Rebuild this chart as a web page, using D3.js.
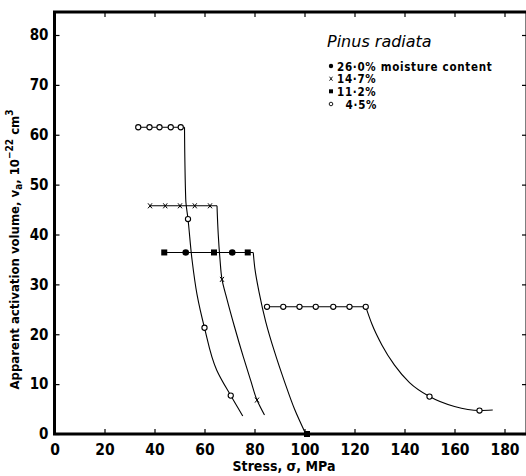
<!DOCTYPE html>
<html><head><meta charset="utf-8">
<script src="https://cdn.jsdelivr.net/npm/d3@7"></script>
<style>
body{margin:0;background:#fff;}
svg{display:block;}
text{font-family:"DejaVu Sans Condensed","Liberation Sans Narrow","DejaVu Sans",sans-serif;fill:#000;}
</style></head><body>
<svg id="c" width="526" height="476"></svg>
<script>
// ---- data ----
const xTicks = [0,20,40,60,80,100,120,140,160,180];
const yTicks = [0,10,20,30,40,50,60,70,80];
const legendLabels = ["26\u00b70% moisture content","14\u00b77%","11\u00b72%","  4\u00b75%"];

// 4.5% moisture: first plateau (open circles)
const m45aX = [33.5,38,42,46.5,50.5];
const m45aY = [61.5,61.5,61.5,61.5,61.5];
const m45aDropX = [53.4,60,70.5];
const m45aDropY = [43.1,21.3,7.7];
const m45aLineX = [33.5,52,52.5,53.4,55,57,60,64.9,70.5,75.3];
const m45aLineY = [61.5,61.5,47,43.1,35,28,21.3,12.8,7.7,3.6];
// 4.5% second plateau
const m45bX = [85,91.5,98,104.5,111.5,118,124.5];
const m45bY = [25.5,25.5,25.5,25.5,25.5,25.5,25.5];
const m45bDropX = [150,170];
const m45bDropY = [7.5,4.7];
const m45bLineX = [85,124.5,127,131,136,142,150,160,170,175.3];
const m45bLineY = [25.5,25.5,22,17.8,13.8,10.3,7.5,5.5,4.7,4.8];
// 14.7% (crosses)
const m147X = [38.2,44.3,50.2,56.1,62.2,67,81];
const m147Y = [45.75,45.75,45.75,45.75,45.75,31,6.8];
const m147LineX = [38.2,65,65.5,66.2,67,69,72,75.5,78.5,81,84];
const m147LineY = [45.75,45.75,40,35,31,27,21.5,15.5,10.7,6.8,3.8];
// 11.2% (filled squares) and 26.0% (filled circles)
const m112X = [43.9,63.8,77.3,101];
const m112Y = [36.4,36.4,36.4,0];
const m260X = [52.5,71.1];
const m260Y = [36.4,36.4];
const m112LineX = [43.9,79.5,80.2,81.8,84.5,88,92,96,100.5];
const m112LineY = [36.4,36.4,33,28.5,22.5,16.5,10.5,5,0];

// ---- drawing ----
const svg = d3.select("#c");
const x = d3.scaleLinear().domain([0,180]).range([54.5,504.5]);
const y = d3.scaleLinear().domain([0,80]).range([434,35]);
const xMax = 189, yMax = 84.6;

// frame
svg.append("path").attr("stroke","#000").attr("fill","none").attr("stroke-width",3)
  .attr("d",`M${x(0)},${y(0)}V${y(yMax)}H${x(xMax)}V${y(0)}Z`);

// axes
const fam = "'DejaVu Sans Condensed','Liberation Sans Narrow',sans-serif";
const gx = svg.append("g").attr("transform",`translate(0,${y(0)})`)
  .call(d3.axisBottom(x).tickValues(xTicks).tickSizeInner(-5).tickSizeOuter(0).tickPadding(10).tickFormat(d3.format("d")));
gx.select(".domain").remove();
gx.selectAll("text").style("font","bold 15.5px "+fam).attr("fill","#000");
const gy = svg.append("g").attr("transform",`translate(${x(0)},0)`)
  .call(d3.axisLeft(y).tickValues(yTicks).tickSizeInner(-5).tickSizeOuter(0).tickPadding(6).tickFormat(d3.format("d")));
gy.select(".domain").remove();
gy.selectAll("text").style("font","bold 15px "+fam).attr("fill","#000");
// top / right inward ticks
const gt = svg.append("g").attr("transform",`translate(0,${y(yMax)})`)
  .call(d3.axisTop(x).tickValues(xTicks).tickSizeInner(-5).tickSizeOuter(0).tickFormat(""));
gt.select(".domain").remove();
const gr = svg.append("g").attr("transform",`translate(${x(xMax)},0)`)
  .call(d3.axisRight(y).tickValues(yTicks).tickSizeInner(-5).tickSizeOuter(0).tickFormat(""));
gr.select(".domain").remove();
svg.selectAll(".tick line").attr("stroke","#000").attr("stroke-width",1.2);

// axis titles
svg.append("text").attr("x",284).attr("y",471).attr("text-anchor","middle")
  .style("font","bold 14px "+fam)
  .text("Stress, \u03c3, MPa");
const yl = svg.append("text").attr("transform",`translate(19,${y(37)}) rotate(-90)`).attr("text-anchor","middle")
  .style("font","bold 13px "+fam);
yl.append("tspan").text("Apparent activation volume, v");
yl.append("tspan").attr("dy",3).style("font-size","10px").text("a");
yl.append("tspan").attr("dy",-3).text(", 10");
yl.append("tspan").attr("dy",-6).style("font-size","10px").text("\u221222");
yl.append("tspan").attr("dy",6).text(" cm");
yl.append("tspan").attr("dy",-6).style("font-size","10px").text("3");

// lines
const straight = d3.line();
const smoothY = d3.line().curve(d3.curveMonotoneY);
const smoothX = d3.line().curve(d3.curveMonotoneX);
function drawLine(xs, ys, gen){
  svg.append("path").attr("fill","none").attr("stroke","#000").attr("stroke-width",1.1)
    .attr("d", gen(xs.map((v,i)=>[x(v), y(ys[i])])));
}
[[m45aLineX,m45aLineY,smoothY],[m45bLineX,m45bLineY,smoothX],[m147LineX,m147LineY,smoothY],[m112LineX,m112LineY,smoothY]].forEach(([xs,ys,g])=>{
  drawLine(xs.slice(0,2), ys.slice(0,2), straight);
  drawLine(xs.slice(1), ys.slice(1), g);
});

// markers
function circles(xs, ys){
  svg.append("g").selectAll("circle").data(xs).join("circle")
    .attr("cx",d=>x(d)).attr("cy",(d,i)=>y(ys[i])).attr("r",2.6)
    .attr("fill","#fff").attr("stroke","#000").attr("stroke-width",1.1);
}
circles(m45aX,m45aY); circles(m45aDropX,m45aDropY);
circles(m45bX,m45bY); circles(m45bDropX,m45bDropY);
svg.append("g").selectAll("path").data(m147X).join("path")
  .attr("d",(d,i)=>{const cx=x(d),cy=y(m147Y[i]);return `M${cx-2},${cy-2.5}L${cx+2},${cy+2.5}M${cx+2},${cy-2.5}L${cx-2},${cy+2.5}`;})
  .attr("stroke","#000").attr("stroke-width",1);
svg.append("g").selectAll("rect").data(m112X).join("rect")
  .attr("x",d=>x(d)-3).attr("y",(d,i)=>y(m112Y[i])-3).attr("width",6).attr("height",6).attr("fill","#000");
svg.append("g").selectAll("circle").data(m260X).join("circle")
  .attr("cx",d=>x(d)).attr("cy",(d,i)=>y(m260Y[i])).attr("r",3.3).attr("fill","#000");

// legend
svg.append("text").attr("x",327).attr("y",47)
  .style("font","italic 16px 'DejaVu Sans','Liberation Sans',sans-serif").text("Pinus radiata");
const lg = svg.append("g");
const ly = [66,78.7,91.3,104];
legendLabels.forEach((t,i)=>{
  lg.append("text").attr("x",337).attr("y",ly[i]+4.5).attr("xml:space","preserve")
    .attr("letter-spacing",0.7)
    .style("font","bold 11.5px "+fam).text(t);
});
lg.append("circle").attr("cx",331).attr("cy",ly[0]).attr("r",2.2).attr("fill","#000");
lg.append("path").attr("d",`M329.5,${ly[1]-2}L332.5,${ly[1]+2}M332.5,${ly[1]-2}L329.5,${ly[1]+2}`).attr("stroke","#000").attr("stroke-width",0.9);
lg.append("rect").attr("x",329).attr("y",ly[2]-2).attr("width",4).attr("height",4).attr("fill","#000");
lg.append("circle").attr("cx",331).attr("cy",ly[3]).attr("r",1.8).attr("fill","#fff").attr("stroke","#000").attr("stroke-width",0.9);
</script></body></html>
